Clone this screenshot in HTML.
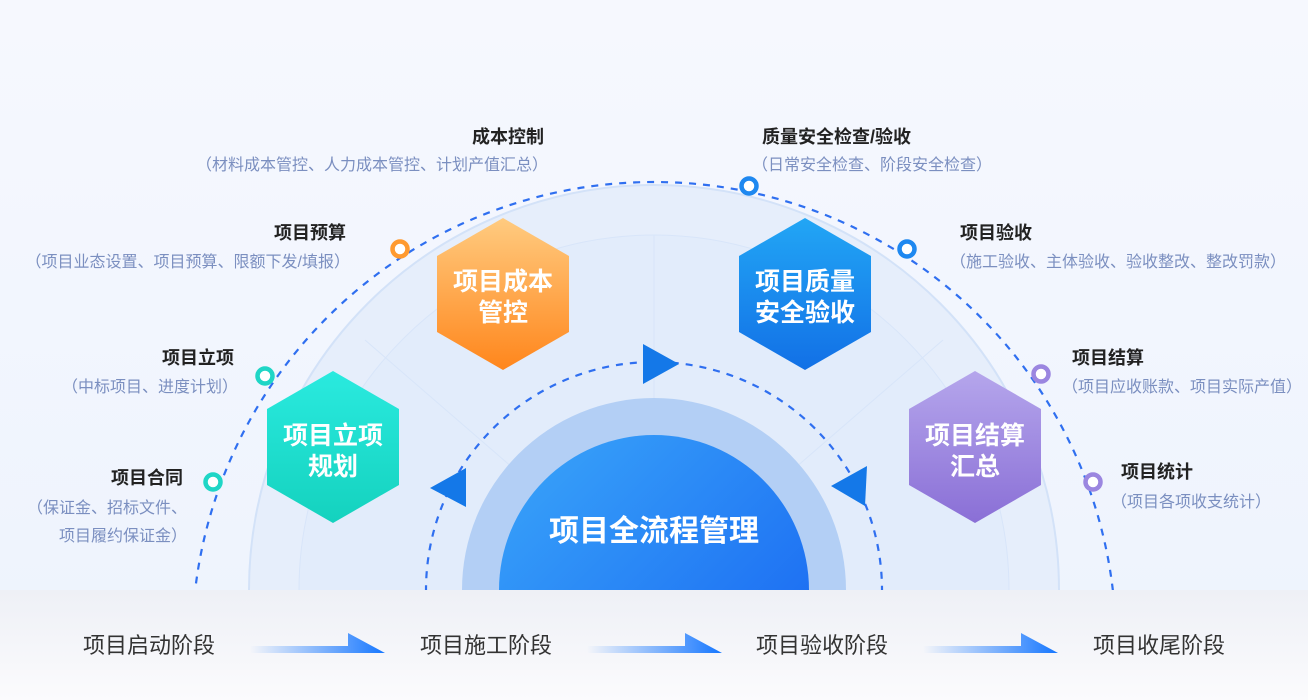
<!DOCTYPE html>
<html><head><meta charset="utf-8"><style>
html,body{margin:0;padding:0;width:1308px;height:700px;overflow:hidden;}
body{background:#f1f5fd;font-family:"Liberation Sans","Noto Sans CJK SC",sans-serif;}
svg{display:block;}
</style></head><body>
<svg width="1308" height="700" viewBox="0 0 1308 700" xmlns="http://www.w3.org/2000/svg" font-family="Liberation Sans, Noto Sans CJK SC, sans-serif">
<defs>
<linearGradient id="bg" x1="0" y1="0" x2="0" y2="1"><stop offset="0" stop-color="#f6f8fe"/><stop offset="1" stop-color="#edf3fd"/></linearGradient>
<linearGradient id="core" x1="0" y1="0" x2="1" y2="1"><stop offset="0" stop-color="#3aa6fa"/><stop offset="1" stop-color="#1560f0"/></linearGradient>
<linearGradient id="cy" x1="0" y1="0" x2="0" y2="1"><stop offset="0" stop-color="#2aeadf"/><stop offset="1" stop-color="#14d2be"/></linearGradient>
<linearGradient id="or" x1="0" y1="0" x2="0" y2="1"><stop offset="0" stop-color="#ffcb80"/><stop offset="1" stop-color="#ff861c"/></linearGradient>
<linearGradient id="bl" x1="0" y1="0" x2="0" y2="1"><stop offset="0" stop-color="#22a6f5"/><stop offset="1" stop-color="#1270e6"/></linearGradient>
<linearGradient id="pu" x1="0" y1="0" x2="0" y2="1"><stop offset="0" stop-color="#b5a6ec"/><stop offset="1" stop-color="#8a6fd6"/></linearGradient>
<linearGradient id="bar" x1="0" y1="0" x2="0" y2="1"><stop offset="0" stop-color="#eef0f6"/><stop offset="1" stop-color="#fbfbfd"/></linearGradient>
<linearGradient id="arr" x1="0" y1="0" x2="1" y2="0"><stop offset="0" stop-color="#1677ff" stop-opacity="0"/><stop offset="1" stop-color="#1677ff"/></linearGradient>
</defs>
<rect width="1308" height="700" fill="url(#bg)"/>
<circle cx="654" cy="590" r="405" fill="#e6eefb" stroke="#d3e2f8" stroke-width="2"/>
<circle cx="654" cy="590" r="355" fill="#e2ecfb" stroke="#d8e5f9" stroke-width="1"/>
<line x1="654" y1="235" x2="654" y2="590" stroke="#d8e5f9" stroke-width="1"/>
<line x1="365" y1="340" x2="654" y2="590" stroke="#d8e5f9" stroke-width="1"/>
<line x1="943" y1="340" x2="654" y2="590" stroke="#d8e5f9" stroke-width="1"/>
<circle cx="654" cy="590" r="192" fill="#b3cff5"/>
<circle cx="654" cy="590" r="155" fill="url(#core)"/>
<text x="654" y="541" text-anchor="middle" font-size="30" font-weight="bold" fill="#fff">项目全流程管理</text>
<circle cx="654" cy="644" r="462" fill="none" stroke="#2f6ff0" stroke-width="2.2" stroke-dasharray="7 7"/>
<circle cx="654" cy="590" r="228" fill="none" stroke="#2f6ff0" stroke-width="2.2" stroke-dasharray="7 7"/>
<polygon points="643,344 643,384 679,364" fill="#1478e8"/>
<polygon points="867,466 865,506 831,486" fill="#1478e8"/>
<polygon points="466,468 466,507 430,488" fill="#1478e8"/>
<g stroke-width="4.5" fill="#fff">
<circle cx="213" cy="482" r="7.5" stroke="#1fd6c6"/>
<circle cx="265" cy="376" r="7.5" stroke="#1fd6c6"/>
<circle cx="400" cy="249" r="7.5" stroke="#ff9a30"/>
<circle cx="749" cy="186" r="7.5" stroke="#1e88f0"/>
<circle cx="907" cy="249" r="7.5" stroke="#1e88f0"/>
<circle cx="1041" cy="374" r="7.5" stroke="#9b86e0"/>
<circle cx="1093" cy="482" r="7.5" stroke="#9b86e0"/>
</g>
<polygon points="333,371 399,409 399,485 333,523 267,485 267,409" fill="url(#cy)"/>
<polygon points="503,218 569,256 569,332 503,370 437,332 437,256" fill="url(#or)"/>
<polygon points="805,218 871,256 871,332 805,370 739,332 739,256" fill="url(#bl)"/>
<polygon points="975,371 1041,409 1041,485 975,523 909,485 909,409" fill="url(#pu)"/>
<g font-size="25" font-weight="bold" fill="#fff" text-anchor="middle">
<text x="333" y="444">项目立项</text><text x="333" y="475">规划</text>
<text x="503" y="290">项目成本</text><text x="503" y="321">管控</text>
<text x="805" y="290">项目质量</text><text x="805" y="321">安全验收</text>
<text x="975" y="444">项目结算</text><text x="975" y="475">汇总</text>
</g>
<g font-size="18" font-weight="bold" fill="#222">
<text x="544" y="143" text-anchor="end">成本控制</text>
<text x="346" y="239" text-anchor="end">项目预算</text>
<text x="234" y="364" text-anchor="end">项目立项</text>
<text x="183" y="484" text-anchor="end">项目合同</text>
<text x="762" y="143">质量安全检查/验收</text>
<text x="960" y="239">项目验收</text>
<text x="1072" y="364">项目结算</text>
<text x="1121" y="478">项目统计</text>
</g>
<g font-size="16" fill="#7b8fc0">
<text x="548" y="170" text-anchor="end">（材料成本管控、人力成本管控、计划产值汇总）</text>
<text x="350" y="267" text-anchor="end">（项目业态设置、项目预算、限额下发/填报）</text>
<text x="238" y="392" text-anchor="end">（中标项目、进度计划）</text>
<text x="187" y="513" text-anchor="end">（保证金、招标文件、</text>
<text x="187" y="541" text-anchor="end">项目履约保证金）</text>
<text x="752" y="170">（日常安全检查、阶段安全检查）</text>
<text x="950" y="267">（施工验收、主体验收、验收整改、整改罚款）</text>
<text x="1062" y="392">（项目应收账款、项目实际产值）</text>
<text x="1111" y="507">（项目各项收支统计）</text>
</g>
<rect x="0" y="590" width="1308" height="110" fill="url(#bar)"/>
<g font-size="22" fill="#333" text-anchor="middle">
<text x="149" y="653">项目启动阶段</text>
<text x="486" y="653">项目施工阶段</text>
<text x="822" y="653">项目验收阶段</text>
<text x="1159" y="653">项目收尾阶段</text>
</g>
<g fill="url(#arr)">
<polygon points="250,646 348,646 348,633 385,653 250,653"/>
<polygon points="587,646 685,646 685,633 722,653 587,653"/>
<polygon points="923,646 1021,646 1021,633 1058,653 923,653"/>
</g>
</svg>
</body></html>
